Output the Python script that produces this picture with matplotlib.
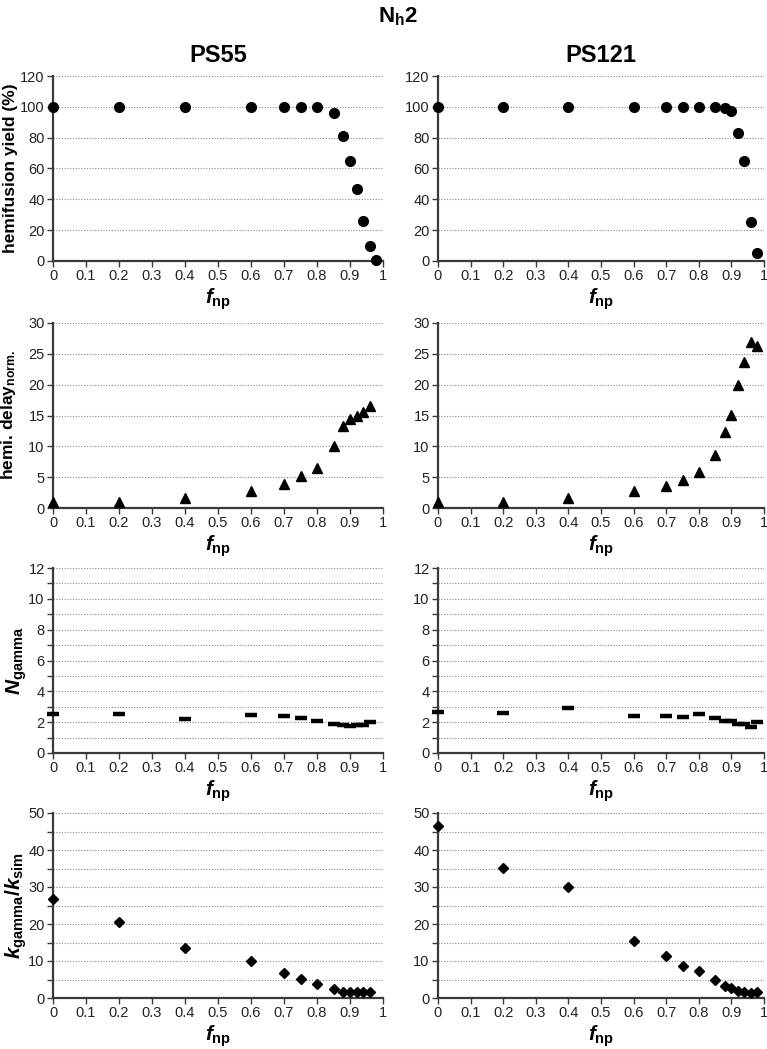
import numpy as np
import matplotlib
matplotlib.use('Agg')
import matplotlib.pyplot as plt
from matplotlib.ticker import MultipleLocator, FormatStrFormatter

plt.rcParams['font.family'] = ['Liberation Sans', 'DejaVu Sans']
plt.rcParams['mathtext.fontset'] = 'custom'
plt.rcParams['mathtext.rm'] = 'Liberation Sans:bold'
plt.rcParams['mathtext.bf'] = 'Liberation Sans:bold'
plt.rcParams['mathtext.it'] = 'Liberation Sans:italic:bold'

# x values (f_np)
x_ps55 = [0, 0.2, 0.4, 0.6, 0.7, 0.75, 0.8, 0.85, 0.88, 0.9, 0.92, 0.94, 0.96, 0.98]
x_ps121 = [0, 0.2, 0.4, 0.6, 0.7, 0.75, 0.8, 0.85, 0.88, 0.9, 0.92, 0.94, 0.96, 0.98]
x_ps55_short = x_ps55[:-1]

# hemifusion yield (%)
yield_ps55 = [100, 100, 100, 100, 100, 100, 100, 96, 81, 65, 47, 26, 9.5, 0.5]
yield_ps121 = [100, 100, 100, 100, 100, 100, 100, 100, 99.4, 97, 83, 65, 25, 5]

# hemi. delay (normalised)
delay_ps55 = [0.9, 1.0, 1.6, 2.7, 3.9, 5.2, 6.5, 10.0, 13.3, 14.4, 14.9, 15.6, 16.5]
delay_ps121 = [0.9, 1.0, 1.6, 2.7, 3.6, 4.6, 5.8, 8.6, 12.4, 15.1, 20.0, 23.7, 26.9, 26.2]

# N_gamma
ngamma_ps55 = [2.5, 2.5, 2.23, 2.44, 2.4, 2.29, 2.05, 1.86, 1.82, 1.73, 1.82, 1.82, 2.03]
ngamma_ps121 = [2.64, 2.6, 2.9, 2.42, 2.4, 2.31, 2.5, 2.29, 2.05, 2.05, 1.86, 1.86, 1.71, 2.03]

# k_gamma / k_sim
kratio_ps55 = [26.8, 20.5, 13.4, 10.0, 6.8, 5.1, 3.9, 2.5, 1.7, 1.7, 1.7, 1.7, 1.7]
kratio_ps121 = [46.4, 35.1, 30.0, 15.5, 11.3, 8.7, 7.3, 5.0, 3.2, 2.7, 1.8, 1.7, 1.4, 1.6]

col_titles = ['PS55', 'PS121']
ylabels = ['hemifusion yield (%)',
           r'hemi. delay$_{\mathbf{norm.}}$',
           r'$\mathit{N}_{\mathbf{gamma}}$',
           r'$\mathit{k}_{\mathbf{gamma}}\mathbf{/}\mathit{k}_{\mathbf{sim}}$']
ylabel_sizes = [12.5, 12.5, 15, 15]
ylabel_x = [-0.106, -0.106, -0.074, -0.074]

# rows: (left x, left y, right x, right y, ymax, major, minor, marker, size)
rows = [
    (x_ps55, yield_ps55, x_ps121, yield_ps121, 120, 20, 20, 'o', 7),
    (x_ps55_short, delay_ps55, x_ps121, delay_ps121, 30, 5, 5, '^', 7),
    (x_ps55_short, ngamma_ps55, x_ps121, ngamma_ps121, 12, 2, 1, '_', 7),
    (x_ps55_short, kratio_ps55, x_ps121, kratio_ps121, 50, 10, 5, 'D', 5),
]

W, H = 767, 1049
fig = plt.figure(figsize=(W / 100, H / 100), dpi=100)

col_left = [53, 438]
col_width = [330, 326]
row_top = [76, 323, 568, 813]
row_h = 185
spine_col = '#3a3a3a'

for r, (xl, yl, xr, yr, ymax, major, minor, mk, ms) in enumerate(rows):
    for c, (xs, ys) in enumerate([(xl, yl), (xr, yr)]):
        ax = fig.add_axes([col_left[c] / W, 1 - (row_top[r] + row_h) / H,
                           col_width[c] / W, row_h / H])
        kw = dict(color='black', linestyle='none', marker=mk, markersize=ms,
                  clip_on=False, zorder=5)
        if mk == '_':
            kw.update(markersize=8, markeredgewidth=3.2)
        ax.plot(xs, ys, **kw)

        ax.set_xlim(0, 1)
        ax.set_ylim(0, ymax)
        ax.xaxis.set_major_locator(MultipleLocator(0.1))
        ax.xaxis.set_major_formatter(FormatStrFormatter('%g'))
        ax.yaxis.set_major_locator(MultipleLocator(major))
        ax.yaxis.set_minor_locator(MultipleLocator(minor))
        ax.yaxis.set_major_formatter(FormatStrFormatter('%g'))
        ax.yaxis.grid(True, which='both', linestyle=(0, (1, 1.5)),
                      color='#888888', linewidth=0.8)
        ax.set_axisbelow(True)

        for s in ['top', 'right']:
            ax.spines[s].set_visible(False)
        for s in ['left', 'bottom']:
            ax.spines[s].set_color(spine_col)
            ax.spines[s].set_linewidth(1.6)
        ax.tick_params(axis='both', which='both', direction='out', length=4,
                       width=1, color=spine_col, labelsize=10.5,
                       labelcolor='#222222', pad=2)

        ax.set_xlabel(r'$\mathit{f}_{\mathbf{np}}$', fontsize=15, labelpad=2)
        if c == 0:
            ax.set_ylabel(ylabels[r], fontsize=ylabel_sizes[r], fontweight='bold')
            ax.yaxis.set_label_coords(ylabel_x[r], 0.5)
        if r == 0:
            ax.set_title(col_titles[c], fontsize=17, fontweight='bold', pad=10)

fig.text(398 / W, 1 - 17 / H, r'$\mathbf{N}_{\mathbf{h}}\mathbf{2}$',
         fontsize=16, ha='center', va='center')

fig.savefig('out.png', dpi=100)
